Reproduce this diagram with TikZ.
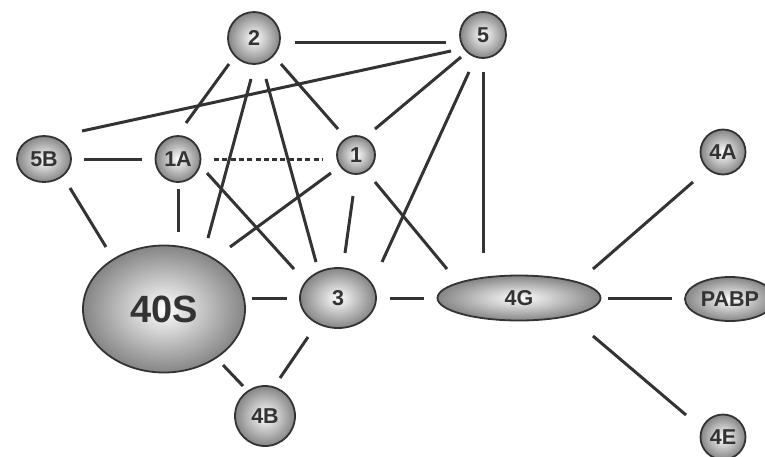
\documentclass[tikz,border=0pt]{standalone}
\usepackage{fontspec}
\setmainfont{Liberation Sans}
\usetikzlibrary{shapes.geometric,calc}
\definecolor{ink}{HTML}{333333}
\definecolor{rim}{HTML}{858585}
\begin{document}
\begin{tikzpicture}[x=1pt,y=-1pt,
  factor/.style={ellipse, draw=ink, line width=1.8pt, inner color=white,
    outer color=rim, inner sep=0pt, text=ink,
    font=\fontsize{21.5}{21.5}\selectfont\bfseries},
  link/.style={draw=ink, line width=3pt},
  weak/.style={link, dash pattern=on 5pt off 3.3pt}]
\useasboundingbox (0,0) rectangle (765,456);

% factors
\node[factor, minimum width=52pt, minimum height=52pt] (n2) at (254,38) {2};
\node[factor, minimum width=46pt, minimum height=46pt] (n5) at (483,35) {5};
\node[factor, minimum width=54pt, minimum height=46pt] (n5B) at (44,159) {5B};
\node[factor, minimum width=45pt, minimum height=46pt] (n1A) at (178,159) {1A};
\node[factor, minimum width=38pt, minimum height=38pt] (n1) at (356,155) {1};
\node[factor, minimum width=45pt, minimum height=45pt] (n4A) at (723,152) {4A};
\node[factor, minimum width=162pt, minimum height=127pt,
      font=\fontsize{38}{38}\selectfont\bfseries] (n40S) at (164,309) {40S};
\node[factor, minimum width=76pt, minimum height=60pt] (n3) at (338,298) {3};
\node[factor, minimum width=60pt, minimum height=60pt] (n4B) at (265,416) {4B};
\node[factor, minimum width=163pt, minimum height=45pt] (n4G) at (519,298) {4G};
\node[factor, minimum width=90pt, minimum height=44pt] (nPABP) at (730,299) {PABP};
\node[factor, minimum width=45pt, minimum height=45pt] (n4E) at (723,437) {4E};

% interactions
\draw[link] ($(n2)+(41,4)$) -- ($(n5)+(-37,7)$);
\draw[link] ($(n5B)+(38,-28)$) -- ($(n5)+(-32,16)$);
\draw[link] ($(n2)+(-25,26)$) -- ($(n1A)+(8,-36)$);
\draw[link] ($(n2)+(-3,41)$) -- ($(n40S)+(44,-71)$);
\draw[link] ($(n2)+(12,41)$) -- ($(n3)+(-22,-36)$);
\draw[link] ($(n2)+(27,26)$) -- ($(n1)+(-18,-26)$);
\draw[link] ($(n5)+(-22,22)$) -- ($(n1)+(19,-26)$);
\draw[link] ($(n5)+(-14,37)$) -- ($(n3)+(44,-36)$);
\draw[link] ($(n5)+(0,37)$) -- ($(n4G)+(-36,-45)$);
\draw[link] ($(n5B)+(40,0)$) -- ($(n1A)+(-36,0)$);
\draw[weak] ($(n1A)+(36,0)$) -- ($(n1)+(-34,4)$);
\draw[link] ($(n5B)+(26,29)$) -- ($(n40S)+(-58,-62)$);
\draw[link] ($(n1A)+(0,30)$) -- ($(n40S)+(14,-77)$);
\draw[link] ($(n1A)+(29,14)$) -- ($(n3)+(-44,-29)$);
\draw[link] ($(n1)+(-25,18)$) -- ($(n40S)+(66,-62)$);
\draw[link] ($(n1)+(-3,41)$) -- ($(n3)+(7,-45)$);
\draw[link] ($(n1)+(19,27)$) -- ($(n4G)+(-72,-29)$);
\draw[link] ($(n40S)+(88,-11)$) -- ($(n3)+(-51,0)$);
\draw[link] ($(n3)+(52,0)$) -- ($(n4G)+(-95,0)$);
\draw[link] ($(n40S)+(59,56)$) -- ($(n4B)+(-22,-30)$);
\draw[link] ($(n3)+(-30,39)$) -- ($(n4B)+(15,-38)$);
\draw[link] ($(n4G)+(74,-29)$) -- ($(n4A)+(-30,30)$);
\draw[link] ($(n4G)+(89,0)$) -- ($(nPABP)+(-58,-1)$);
\draw[link] ($(n4G)+(74,38)$) -- ($(n4E)+(-37,-22)$);
\end{tikzpicture}
\end{document}
